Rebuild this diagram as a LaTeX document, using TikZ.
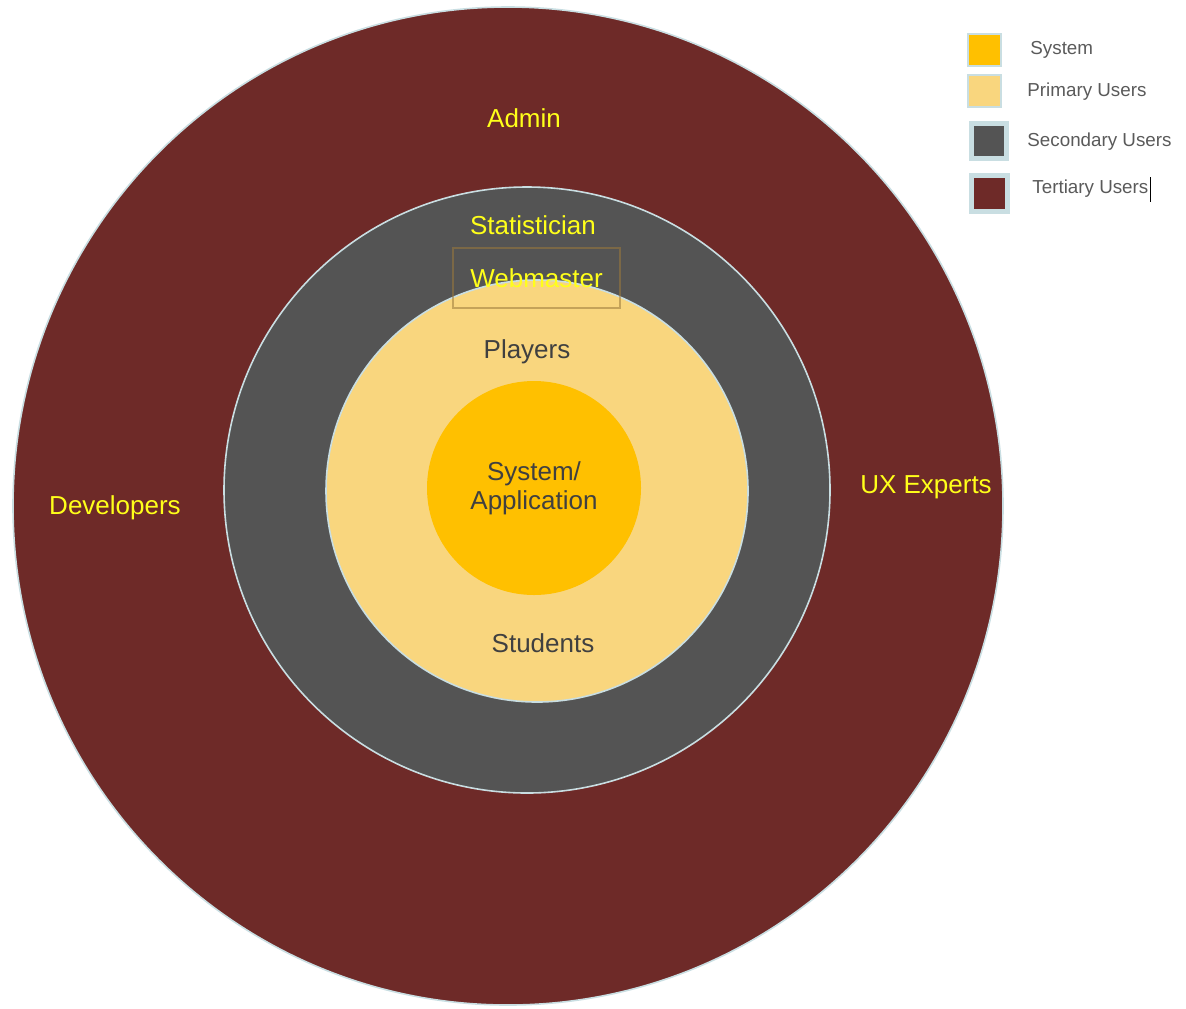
\documentclass[tikz,border=0pt]{standalone}
\usepackage{fontspec}
\setmainfont{Liberation Sans}
\definecolor{tertiary}{HTML}{6E2A28}
\definecolor{secondary}{HTML}{545454}
\definecolor{primary}{HTML}{F9D67E}
\definecolor{system}{HTML}{FFC000}
\definecolor{rim}{HTML}{C9DEE2}
\definecolor{glowtext}{HTML}{FFFF1A}
\definecolor{darktext}{HTML}{404040}
\definecolor{legendtext}{HTML}{5A5A5A}
\definecolor{boxline}{HTML}{9C7A3C}

\begin{document}
\begin{tikzpicture}[x=0.5pt,y=-0.5pt,
    ring/.style={draw=rim,line width=0.8pt},
    rolelabel/.style={text=glowtext,font=\fontsize{13}{14.5}\selectfont},
    userlabel/.style={text=darktext,font=\fontsize{13}{14.5}\selectfont,align=center},
    swatch/.style={draw=rim,line width=0.6pt},
    keylabel/.style={text=legendtext,font=\fontsize{9.4}{11}\selectfont,anchor=west,inner sep=0pt}]
    \useasboundingbox (0,0) rectangle (1186,1008);

    % rings, from the outside in
    \filldraw[tertiary,ring] (508,506) ellipse[x radius=247.5pt,y radius=249.5pt];
    \filldraw[secondary,ring] (527,490) circle[radius=151.5pt];
    \filldraw[primary,ring] (537,491) circle[radius=105.5pt];
    \fill[system] (534,488) circle[radius=53.5pt];

    % tertiary users
    \node[rolelabel] (admin) at (524,118) {Admin};
    \node[rolelabel] (devs) at (115,508) {Developers};
    \node[rolelabel] (ux) at (926,487) {UX Experts};
    % secondary users
    \node[rolelabel] (stat) at (533,225) {Statistician};
    \node[rolelabel,draw=boxline,draw opacity=0.55,line width=0.6pt,
        minimum width=83.5pt,minimum height=30pt] (web) at (536.5,278) {Webmaster};
    % primary users
    \node[userlabel] (players) at (527,352) {Players};
    \node[userlabel] (students) at (543,643) {Students};
    % system
    \node[userlabel] (app) at (534,488) {System/\\Application};

    % legend
    \filldraw[system,swatch] (968,34) rectangle (1001,66);
    \filldraw[primary,swatch] (968,75) rectangle (1001,107);
    \filldraw[fill=secondary,draw=rim,line width=2.5pt] (971.5,123.5) rectangle (1006.5,158.5);
    \filldraw[fill=tertiary,draw=rim,line width=2.5pt] (971.5,175.5) rectangle (1007.5,211.5);
    \node[keylabel] (ksys) at (1030,50) {System};
    \node[keylabel] (kpri) at (1027,92) {Primary Users};
    \node[keylabel] (ksec) at (1027,142) {Secondary Users};
    \node[keylabel] (kter) at (1032,189) {Tertiary Users};
    \draw[black,line width=0.6pt] (kter.east) ++(2,-12) -- ++(0,25);
\end{tikzpicture}
\end{document}
